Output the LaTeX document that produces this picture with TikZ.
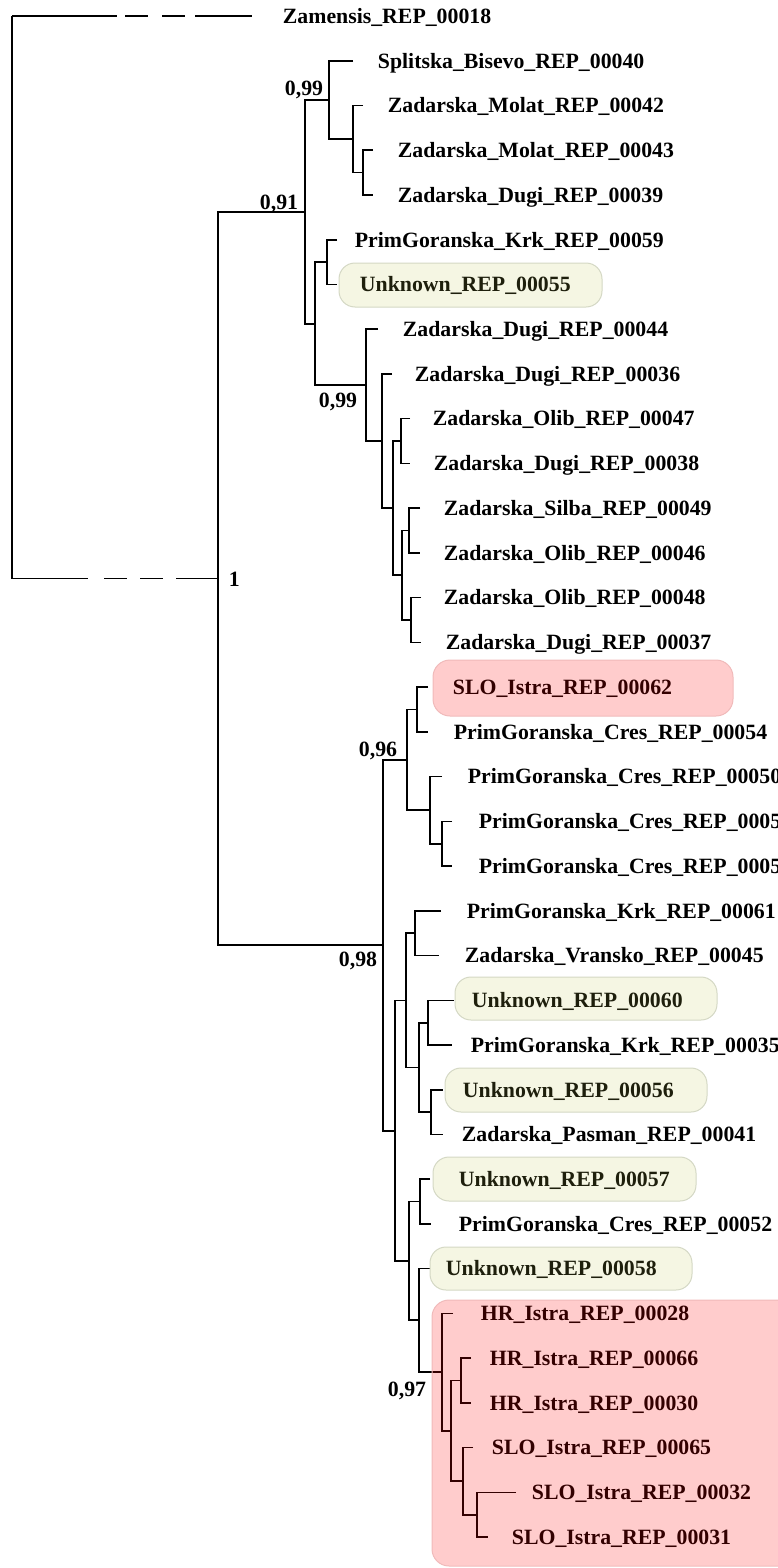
\documentclass[tikz,border=0pt]{standalone}
\usepackage{fontspec}
\setmainfont{Liberation Serif}
\definecolor{unkfill}{RGB}{190,196,80}
\definecolor{unkline}{RGB}{212,216,196}
\definecolor{hlfill}{RGB}{255,0,0}
\definecolor{hlline}{RGB}{240,186,186}

\begin{document}
\begin{tikzpicture}[x=1pt,y=-1pt,line width=1.8pt,
  leaf/.style={anchor=west,inner sep=0pt,text height=14.5pt,text depth=0pt,font=\fontsize{21.8}{26}\selectfont\bfseries},
  supp/.style={leaf,anchor=east},
  unkbox/.style={rounded corners=16pt,fill=unkfill,fill opacity=0.16,draw=unkline,line width=1pt},
  hlbox/.style={rounded corners=17pt,fill=hlfill,fill opacity=0.2,draw=hlline,line width=1pt}]
\useasboundingbox (0,0) rectangle (777,1568);

% inner nodes
\coordinate (root) at (12,297);
\coordinate (b1) at (218,578.5);
\coordinate (b091) at (305,211.8);
\coordinate (b099a) at (329,100);
\coordinate (bMol) at (353,139);
\coordinate (bMol2) at (363,172.5);
\coordinate (bKrk) at (315,323.6);
\coordinate (bK59) at (327,262.2);
\coordinate (b099b) at (366,385);
\coordinate (bD36) at (382,441);
\coordinate (bZad) at (393,508.1);
\coordinate (bOl47) at (401,441);
\coordinate (bSil) at (402,575.2);
\coordinate (bSil49) at (409,530.5);
\coordinate (bOl48) at (411,620);
\coordinate (b098) at (383,945.2);
\coordinate (b096) at (407,759.8);
\coordinate (bS62) at (417,709.5);
\coordinate (bCres) at (430,810.1);
\coordinate (bCres2) at (442,843.8);
\coordinate (bLow) at (395,1130.6);
\coordinate (bMid) at (406,1000.4);
\coordinate (bK61) at (415,933.2);
\coordinate (bUnk) at (419,1067.5);
\coordinate (bU60) at (428,1022.8);
\coordinate (bU56) at (431,1112.2);
\coordinate (bIstra) at (409,1260.9);
\coordinate (bU57) at (420,1201.5);
\coordinate (bU58) at (419,1320.3);
\coordinate (b097) at (442,1372.2);
\coordinate (bHR) at (451,1430.8);
\coordinate (bHR66) at (461,1380.5);
\coordinate (bSLO) at (463,1481.1);
\coordinate (bSLO32) at (477,1514.8);

% tips
\coordinate (p18) at (252,16);
\coordinate (p40) at (353,61);
\coordinate (p42) at (363,105.5);
\coordinate (p43) at (373,150);
\coordinate (p39) at (373,195);
\coordinate (p59) at (337,240);
\coordinate (p55) at (337,284.5);
\coordinate (p44) at (378,329);
\coordinate (p36) at (392,374);
\coordinate (p47) at (410,418.5);
\coordinate (p38) at (410,463.5);
\coordinate (p49) at (420,508);
\coordinate (p46) at (420,553);
\coordinate (p48) at (421,597.5);
\coordinate (p37) at (421,642.5);
\coordinate (p62) at (428,687);
\coordinate (p54) at (428,732);
\coordinate (p50) at (442,776.5);
\coordinate (p05a) at (452,821.5);
\coordinate (p05b) at (452,866);
\coordinate (p61) at (441,911);
\coordinate (p45) at (439,955.5);
\coordinate (p60) at (454,1000.5);
\coordinate (p35) at (452,1045);
\coordinate (p56) at (443,1090);
\coordinate (p41) at (443,1134.5);
\coordinate (p57) at (430,1179);
\coordinate (p52) at (431,1224);
\coordinate (p58) at (430,1268.5);
\coordinate (p28) at (453,1313.5);
\coordinate (p66) at (471,1358);
\coordinate (p30) at (471,1403);
\coordinate (p65) at (473,1447.5);
\coordinate (p32) at (516,1492.5);
\coordinate (p31) at (488,1537);

% root with broken branches
\draw (root |- p18) -- (root |- b1);
\draw[dash pattern=on 105pt off 8pt on 23pt off 14pt on 23pt off 10pt on 60pt] (root |- p18) -- (p18);
\draw[dash pattern=on 76pt off 16pt on 23pt off 13pt on 23pt off 13pt on 50pt] (root |- b1) -- (b1);

\draw (b091) -| (b1) |- (b098);
\draw (b099a) -| (b091) |- (bKrk);
\draw (p40) -| (b099a) |- (bMol);
\draw (p42) -| (bMol) |- (bMol2);
\draw (p43) -| (bMol2) |- (p39);
\draw (bK59) -| (bKrk) |- (b099b);
\draw (p59) -| (bK59) |- (p55);
\draw (p44) -| (b099b) |- (bD36);
\draw (p36) -| (bD36) |- (bZad);
\draw (bOl47) -| (bZad) |- (bSil);
\draw (p47) -| (bOl47) |- (p38);
\draw (bSil49) -| (bSil) |- (bOl48);
\draw (p49) -| (bSil49) |- (p46);
\draw (p48) -| (bOl48) |- (p37);
\draw (b096) -| (b098) |- (bLow);
\draw (bS62) -| (b096) |- (bCres);
\draw (p62) -| (bS62) |- (p54);
\draw (p50) -| (bCres) |- (bCres2);
\draw (p05a) -| (bCres2) |- (p05b);
\draw (bMid) -| (bLow) |- (bIstra);
\draw (bK61) -| (bMid) |- (bUnk);
\draw (p61) -| (bK61) |- (p45);
\draw (bU60) -| (bUnk) |- (bU56);
\draw (p60) -| (bU60) |- (p35);
\draw (p56) -| (bU56) |- (p41);
\draw (bU57) -| (bIstra) |- (bU58);
\draw (p57) -| (bU57) |- (p52);
\draw (p58) -| (bU58) |- (b097);
\draw (p28) -| (b097) |- (bHR);
\draw (bHR66) -| (bHR) |- (bSLO);
\draw (p66) -| (bHR66) |- (p30);
\draw (p65) -| (bSLO) |- (bSLO32);
\draw (p32) -| (bSLO32) |- (p31);

% leaf names
\node[leaf] (l18) at (282,16) {Zamensis\_REP\_00018};
\node[leaf] (l40) at (377,61) {Splitska\_Bisevo\_REP\_00040};
\node[leaf] (l42) at (387,105.5) {Zadarska\_Molat\_REP\_00042};
\node[leaf] (l43) at (397,150) {Zadarska\_Molat\_REP\_00043};
\node[leaf] (l39) at (397,195) {Zadarska\_Dugi\_REP\_00039};
\node[leaf] (l59) at (354,240) {PrimGoranska\_Krk\_REP\_00059};
\node[leaf] (l55) at (359,284.5) {Unknown\_REP\_00055};
\node[leaf] (l44) at (402,329) {Zadarska\_Dugi\_REP\_00044};
\node[leaf] (l36) at (414,374) {Zadarska\_Dugi\_REP\_00036};
\node[leaf] (l47) at (432,418.5) {Zadarska\_Olib\_REP\_00047};
\node[leaf] (l38) at (433,463.5) {Zadarska\_Dugi\_REP\_00038};
\node[leaf] (l49) at (443,508) {Zadarska\_Silba\_REP\_00049};
\node[leaf] (l46) at (443,553) {Zadarska\_Olib\_REP\_00046};
\node[leaf] (l48) at (443,597.5) {Zadarska\_Olib\_REP\_00048};
\node[leaf] (l37) at (445,642.5) {Zadarska\_Dugi\_REP\_00037};
\node[leaf] (l62) at (452,687) {SLO\_Istra\_REP\_00062};
\node[leaf] (l54) at (453,732) {PrimGoranska\_Cres\_REP\_00054};
\node[leaf] (l50) at (467,776.5) {PrimGoranska\_Cres\_REP\_00050};
\node[leaf] (l05a) at (478,821.5) {PrimGoranska\_Cres\_REP\_0005};
\node[leaf] (l05b) at (478,866) {PrimGoranska\_Cres\_REP\_0005};
\node[leaf] (l61) at (466,911) {PrimGoranska\_Krk\_REP\_00061};
\node[leaf] (l45) at (464,955.5) {Zadarska\_Vransko\_REP\_00045};
\node[leaf] (l60) at (471,1000.5) {Unknown\_REP\_00060};
\node[leaf] (l35) at (470,1045) {PrimGoranska\_Krk\_REP\_00035};
\node[leaf] (l56) at (462,1090) {Unknown\_REP\_00056};
\node[leaf] (l41) at (461,1134.5) {Zadarska\_Pasman\_REP\_00041};
\node[leaf] (l57) at (458,1179) {Unknown\_REP\_00057};
\node[leaf] (l52) at (458,1224) {PrimGoranska\_Cres\_REP\_00052};
\node[leaf] (l58) at (445,1268.5) {Unknown\_REP\_00058};
\node[leaf] (l28) at (480,1313.5) {HR\_Istra\_REP\_00028};
\node[leaf] (l66) at (489,1358) {HR\_Istra\_REP\_00066};
\node[leaf] (l30) at (489,1403) {HR\_Istra\_REP\_00030};
\node[leaf] (l65) at (491,1447.5) {SLO\_Istra\_REP\_00065};
\node[leaf] (l32) at (531,1492.5) {SLO\_Istra\_REP\_00032};
\node[leaf] (l31) at (511,1537) {SLO\_Istra\_REP\_00031};

% support values
\node[supp] (s099a) at (324,88) {0,99};
\node[supp] (s091) at (299,202) {0,91};
\node[supp] (s099b) at (358,400) {0,99};
\node[leaf] (s1) at (228,579) {1};
\node[supp] (s096) at (398,749) {0,96};
\node[supp] (s098) at (378,959) {0,98};
\node[supp] (s097) at (427,1389) {0,97};

% highlight boxes
\draw[unkbox] (339,263) rectangle (602,307);
\draw[unkbox] (455,977) rectangle (717,1020);
\draw[unkbox] (445,1068) rectangle (707,1112);
\draw[unkbox] (433,1157) rectangle (696,1201);
\draw[unkbox] (430,1247) rectangle (692,1290);
\draw[hlbox] (433,660) rectangle (733,716);
\draw[hlbox] (432,1300) rectangle (800,1566);
\end{tikzpicture}
\end{document}
